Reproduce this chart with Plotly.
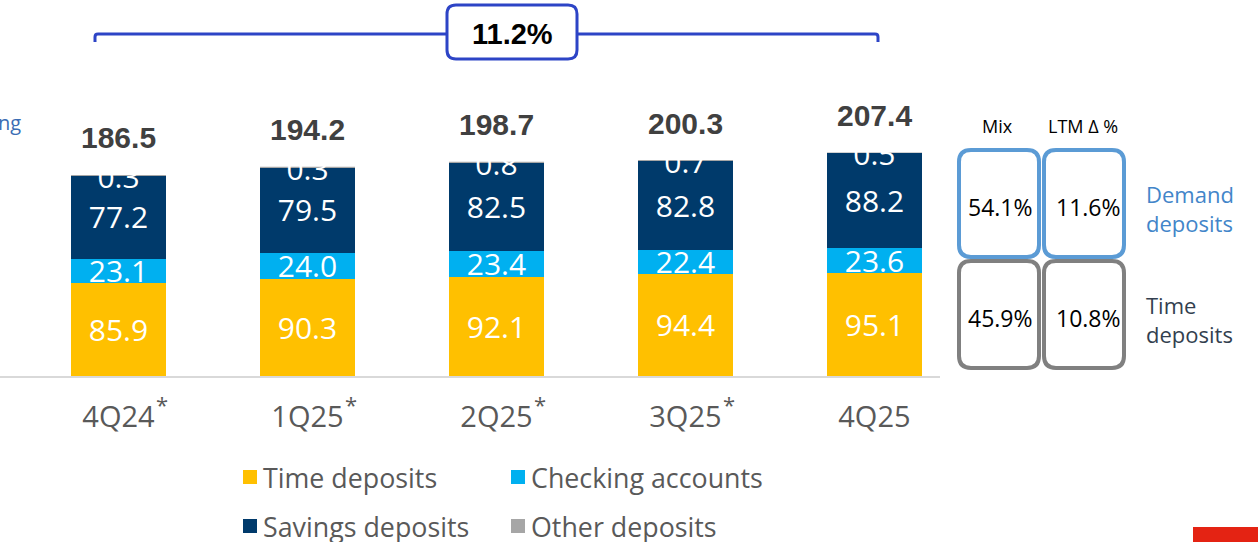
import plotly.graph_objects as go

# data
quarters = ["4Q24", "1Q25", "2Q25", "3Q25", "4Q25"]
starred = [True, True, True, True, False]
time_dep = [85.9, 90.3, 92.1, 94.4, 95.1]
checking = [23.1, 24.0, 23.4, 22.4, 23.6]
savings = [77.2, 79.5, 82.5, 82.8, 88.2]
other = [0.3, 0.3, 0.8, 0.7, 0.5]
totals = [186.5, 194.2, 198.7, 200.3, 207.4]
growth_label = "11.2%"
mix_labels = ["54.1%", "45.9%"]
ltm_labels = ["11.6%", "10.8%"]
group_names = ["Demand<br>deposits", "Time<br>deposits"]

YELLOW = "#FFC000"
CYAN = "#00B0F0"
NAVY = "#003A6B"
GRAY = "#A6A6A6"
BRACKET_BLUE = "#2D44C6"
BOX_BLUE = "#5B9BD5"
BOX_GRAY = "#808080"
TEXT_GRAY = "#595959"

W, H = 1258, 542
PLOT_W = 940      # plot area width in px (left margin 0)
BASE_Y = 376      # pixel row of the baseline
PX_PER_UNIT = 1.078
LABEL_DROP = 3.5  # scatter text renders a bit high, nudge it down (data units)


def px(x):
    """pixel x -> paper x"""
    return x / PLOT_W


def py(y):
    """pixel y -> paper y"""
    return (BASE_Y - y) / BASE_Y


def pt(x, y):
    return f"{px(x):.5f},{py(y):.5f}"


def rounded_box(x0, y0, x1, y1, r):
    return (
        f"M {pt(x0 + r, y0)} L {pt(x1 - r, y0)} Q {pt(x1, y0)} {pt(x1, y0 + r)} "
        f"L {pt(x1, y1 - r)} Q {pt(x1, y1)} {pt(x1 - r, y1)} "
        f"L {pt(x0 + r, y1)} Q {pt(x0, y1)} {pt(x0, y1 - r)} "
        f"L {pt(x0, y0 + r)} Q {pt(x0, y0)} {pt(x0 + r, y0)} Z"
    )


def label(x, y, text, size, color, family="Open Sans", xanchor="center", align="center"):
    fig.add_annotation(xref="paper", yref="paper", x=px(x), y=py(y), text=text,
                       showarrow=False, xanchor=xanchor, yanchor="middle", align=align,
                       font=dict(family=family, size=size, color=color))


fig = go.Figure()

series = [
    ("Time deposits", time_dep, YELLOW),
    ("Checking accounts", checking, CYAN),
    ("Savings deposits", savings, NAVY),
    ("Other deposits", other, GRAY),
]
for name, vals, color in series:
    fig.add_trace(
        go.Bar(
            x=quarters, y=vals, name=name, width=0.5,
            marker=dict(color=color, line=dict(width=0)),
            showlegend=False, hoverinfo="skip",
        )
    )

# segment labels (centered in each segment)
lab_x, lab_y, lab_t = [], [], []
for i, q in enumerate(quarters):
    base = 0
    for vals in (time_dep, checking, savings):
        lab_x.append(q)
        lab_y.append(base + vals[i] / 2 - LABEL_DROP)
        lab_t.append(f"{vals[i]:.1f}")
        base += vals[i]
fig.add_trace(
    go.Scatter(
        x=lab_x, y=lab_y, text=lab_t, mode="text", textposition="middle center",
        textfont=dict(family="Open Sans", size=30, color="white"),
        showlegend=False, hoverinfo="skip",
    )
)

# "other" labels sit on the bar top and get cut off
tops = [t + c + s + o for t, c, s, o in zip(time_dep, checking, savings, other)]
fig.add_trace(
    go.Scatter(
        x=quarters, y=[t - 1.5 - LABEL_DROP for t in tops], text=[f"{o:.1f}" for o in other],
        mode="text", textposition="middle center",
        textfont=dict(family="Open Sans", size=30, color="white"),
        showlegend=False, hoverinfo="skip",
    )
)
for i, top in enumerate(tops):
    fig.add_shape(type="rect", x0=i - 0.3, x1=i + 0.3, y0=top, y1=top + 14,
                  fillcolor="white", line=dict(width=0), layer="above")

# totals
for q, tot in zip(quarters, totals):
    fig.add_annotation(x=q, y=tot, text=f"<b>{tot:.1f}</b>", showarrow=False,
                       xanchor="center", yanchor="middle", yshift=37,
                       font=dict(family="Liberation Sans", size=30, color="#404040"))

# asterisks next to the quarter labels
for q, star in zip(quarters, starred):
    if star:
        fig.add_annotation(x=q, y=py(404), yref="paper", text="*", showarrow=False,
                           xanchor="center", yanchor="middle", xshift=44,
                           font=dict(family="Open Sans", size=22, color=TEXT_GRAY))

# growth bracket
fig.add_shape(
    type="path", xref="paper", yref="paper",
    path=(f"M {pt(95, 42)} L {pt(95, 37)} Q {pt(95, 34)} {pt(98, 34)} "
          f"L {pt(875, 34)} Q {pt(878, 34)} {pt(878, 37)} L {pt(878, 42)}"),
    line=dict(color=BRACKET_BLUE, width=3), layer="above",
)
fig.add_shape(type="path", xref="paper", yref="paper", path=rounded_box(447, 5, 577, 59, 9),
              fillcolor="white", line=dict(color=BRACKET_BLUE, width=3), layer="above")
label(512, 34, f"<b>{growth_label}</b>", 29, "black", family="Liberation Sans")

# mix / LTM panel
label(998, 126, "Mix", 18, "black")
label(1083, 126, "LTM Δ %", 18, "black")
rows = [(150, 257, BOX_BLUE, "#4285C9"), (261, 368, BOX_GRAY, "#333F4F")]
for r, (y0, y1, bcol, tcol) in enumerate(rows):
    for x0, x1 in ((959, 1039), (1044, 1124)):
        fig.add_shape(type="path", xref="paper", yref="paper", path=rounded_box(x0, y0, x1, y1, 12),
                      line=dict(color=bcol, width=4), layer="above")
    yc = (y0 + y1) / 2
    label(1000, yc + 3, mix_labels[r], 23, "black")
    label(1088, yc + 3, ltm_labels[r], 23, "black")
    label(1144, yc + 5, group_names[r], 22, tcol, xanchor="left", align="left")

# cut-off text at left edge
label(-4, 122, "ng", 20, "#3B6DB4", xanchor="left")

# legend (2 x 2)
legend_pos = [(243, 477), (511, 477), (243, 526), (511, 526)]
for (name, _, color), (lx, ly) in zip(series, legend_pos):
    fig.add_shape(type="rect", xref="paper", yref="paper", x0=px(lx), x1=px(lx + 14),
                  y0=py(ly + 7), y1=py(ly - 7), fillcolor=color, line=dict(width=0))
    label(lx + 18, ly, name, 26.8, TEXT_GRAY, xanchor="left")

# red corner tab
fig.add_shape(type="rect", xref="paper", yref="paper", x0=px(1193), x1=px(1258),
              y0=py(542), y1=py(527), fillcolor="#E42313", line=dict(width=0))

fig.update_layout(
    width=W, height=H, barmode="stack",
    margin=dict(l=0, r=W - PLOT_W, t=0, b=H - BASE_Y),
    plot_bgcolor="white", paper_bgcolor="white",
    xaxis=dict(
        range=[-0.627, 4.347], tickmode="array", tickvals=quarters, ticktext=quarters,
        showline=True, linecolor="#D9D9D9", linewidth=2, showgrid=False, zeroline=False,
        ticks="", ticklabelstandoff=14,
        tickfont=dict(family="Open Sans", size=29, color=TEXT_GRAY),
    ),
    yaxis=dict(range=[0, BASE_Y / PX_PER_UNIT], visible=False, showgrid=False, zeroline=False),
)

fig.write_html("out.html", config={"displayModeBar": False},
               post_script="document.body.style.margin='0';")
